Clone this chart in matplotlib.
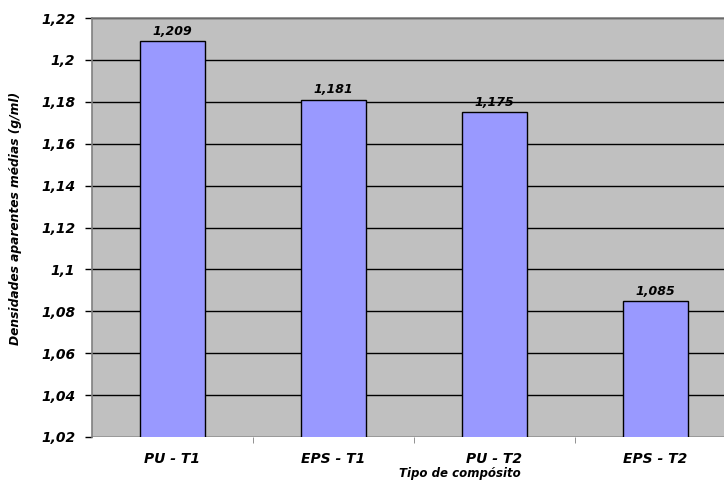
import matplotlib.pyplot as plt
from matplotlib.ticker import FixedLocator, FuncFormatter

plt.rcParams['font.family'] = ['DejaVu Sans']

# Apparent mean density per composite type
categorias = ['PU - T1', 'EPS - T1', 'PU - T2', 'EPS - T2']
densidades = [1.209, 1.181, 1.175, 1.085]
y_ticks = [1.02, 1.04, 1.06, 1.08, 1.10, 1.12, 1.14, 1.16, 1.18, 1.20, 1.22]

bold_it = dict(fontweight='bold', fontstyle='italic')


def virgula(v, pos=None):
    # Excel-style label with decimal comma and no trailing zeros
    s = f'{v:.3f}'.rstrip('0').rstrip('.')
    return s.replace('.', ',')


fig = plt.figure(figsize=(7.24, 4.83), dpi=100)
ax = fig.add_axes([92 / 724, 46 / 483, 644 / 724, 419 / 483])
ax.set_facecolor('#C0C0C0')

x = range(len(categorias))
ax.bar(x, densidades, width=0.4, color='#9999FF', edgecolor='black',
       linewidth=1.0, zorder=3)

for xi, v in zip(x, densidades):
    ax.text(xi, v + 0.003, f'{v:.3f}'.replace('.', ','), ha='center',
            va='baseline', fontsize=9, zorder=4, **bold_it)

ax.set_xlim(-0.5, len(categorias) - 0.5)
ax.set_ylim(1.02, 1.22)
ax.yaxis.set_major_locator(FixedLocator(y_ticks))
ax.yaxis.set_major_formatter(FuncFormatter(virgula))
ax.grid(axis='y', color='black', linewidth=1.0, zorder=1)

ax.set_xticks(list(x))
ax.set_xticklabels(categorias)
ax.set_xticks([i + 0.5 for i in range(len(categorias) - 1)], minor=True)
ax.tick_params(axis='x', which='major', length=0, pad=10.5)
ax.tick_params(axis='x', which='minor', length=4, color='#808080')
ax.tick_params(axis='y', length=5, width=1, color='black', pad=7)

for lab in ax.get_xticklabels():
    lab.set_fontsize(10)
    lab.set(**bold_it)
for lab in ax.get_yticklabels():
    lab.set_fontsize(10)
    lab.set(**bold_it)

for side in ['top', 'left', 'right']:
    ax.spines[side].set_color('#808080')
    ax.spines[side].set_linewidth(1.2)
ax.spines['bottom'].set_visible(False)

fig.text(460 / 724, 9 / 483, 'Tipo de compósito', ha='center', va='center',
         fontsize=8.5, **bold_it)
fig.text(16 / 724, 265 / 483, 'Densidades aparentes médias (g/ml)',
         rotation=90, ha='center', va='center', fontsize=8.8, **bold_it)

fig.savefig('out.png', dpi=100)
plt.close(fig)
